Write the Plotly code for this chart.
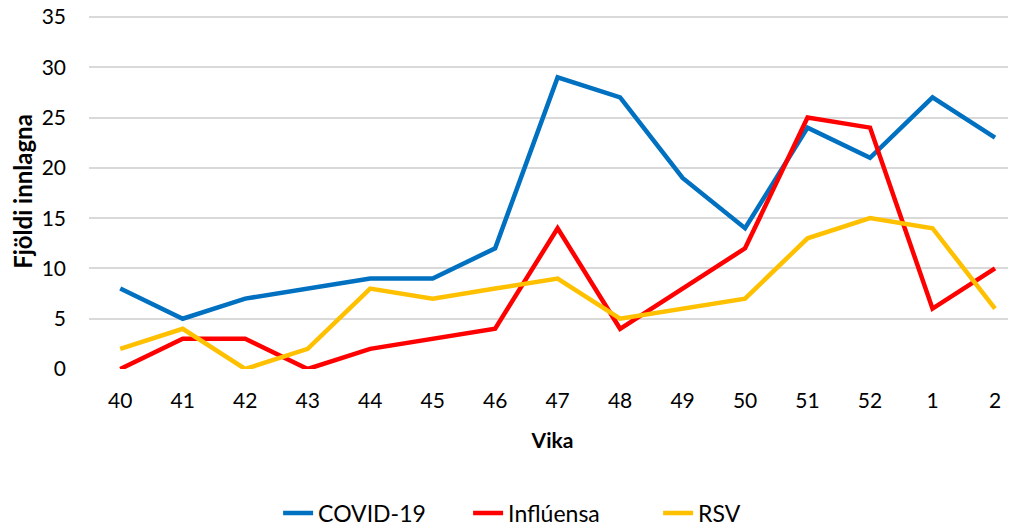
import plotly.graph_objects as go

weeks = ["40", "41", "42", "43", "44", "45", "46", "47", "48", "49", "50", "51", "52", "1", "2"]
covid = [8, 5, 7, 8, 9, 9, 12, 29, 27, 19, 14, 24, 21, 27, 23]
influenza = [0, 3, 3, 0, 2, 3, 4, 14, 4, 8, 12, 25, 24, 6, 10]
rsv = [2, 4, 0, 2, 8, 7, 8, 9, 5, 6, 7, 13, 15, 14, 6]

series = [("COVID-19", covid, "#0070C0"), ("Inflúensa", influenza, "#FF0000"), ("RSV", rsv, "#FFC000")]

fig = go.Figure()
for name, vals, col in series:
    fig.add_trace(go.Scatter(x=list(range(len(weeks))), y=vals, name=name, mode="lines",
                             line=dict(color=col, width=4.5, shape="linear")))

font = "Lato, 'Open Sans', sans-serif"
fig.update_layout(
    width=1016, height=527,
    margin=dict(l=81, r=8, t=6, b=166, autoexpand=False),
    paper_bgcolor="white", plot_bgcolor="white",
    font=dict(family=font, size=21, color="#000000"),
    xaxis=dict(
        tickmode="array", tickvals=list(range(len(weeks))), ticktext=weeks,
        range=[-0.5, 14.336], showgrid=False, zeroline=False, showline=False,
        ticks="", ticklabelstandoff=17, automargin=False,
        title=dict(text="<b>Vika</b>", font=dict(size=21), standoff=22),
    ),
    yaxis=dict(
        range=[0, 35.3], tickvals=[0, 5, 10, 15, 20, 25, 30, 35], showgrid=True,
        gridcolor="#D9D9D9", gridwidth=1.5, zeroline=False, showline=False, ticks="",
        ticklabelstandoff=22, automargin=False, ticklabeloverflow="allow",
        title=dict(text="<b>Fjöldi innlagna</b>", font=dict(size=24), standoff=6),
    ),
    legend=dict(orientation="h", x=0.204, xanchor="left", y=-0.406, yanchor="middle",
                font=dict(size=23), entrywidth=145, entrywidthmode="pixels", tracegroupgap=0),
    showlegend=True,
)

fig.write_html("out.html")
